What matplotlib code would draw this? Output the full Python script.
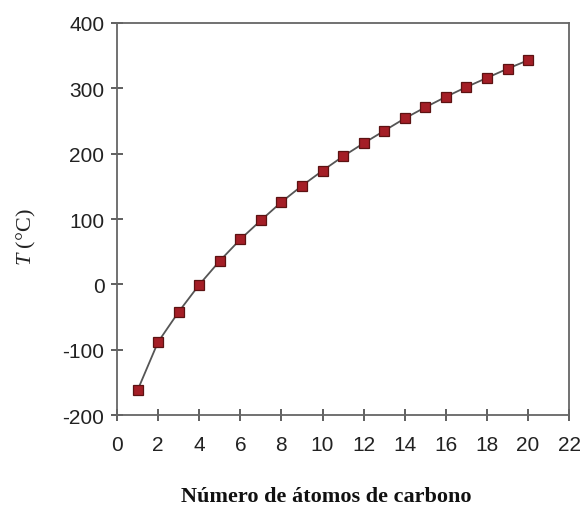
import numpy as np
import matplotlib.pyplot as plt

plt.rcParams['axes.unicode_minus'] = False
plt.rcParams['mathtext.fontset'] = 'custom'
plt.rcParams['mathtext.it'] = 'Liberation Serif:italic'
plt.rcParams['mathtext.rm'] = 'Liberation Serif'

# Ponto de ebulicao dos alcanos lineares (C1 a C20)
n_carbonos = [1, 2, 3, 4, 5, 6, 7, 8, 9, 10, 11, 12, 13, 14, 15, 16, 17, 18, 19, 20]
temperatura = [-162, -88, -42, -0.5, 36, 69, 98, 126, 151, 174,
               196, 216, 235, 254, 271, 287, 302, 316, 330, 343]
x_ticks = [0, 2, 4, 6, 8, 10, 12, 14, 16, 18, 20, 22]
y_ticks = [-200, -100, 0, 100, 200, 300, 400]

Cor_linha = '#555555'
Cor_eixo = '#666666'
Fonte_ticks = 'Liberation Sans'

fig = plt.figure(figsize=(5.82, 5.10), dpi=100)
ax = fig.add_axes([0.201, 0.184, 0.777, 0.769])

ax.plot(n_carbonos, temperatura, color=Cor_linha, linewidth=1.3,
        marker='s', markersize=6.5, markerfacecolor='#a41e26',
        markeredgecolor='#5c1212', markeredgewidth=0.9, zorder=3)

ax.set_xlim(0, 22)
ax.set_ylim(-200, 400)
ax.set_xticks(x_ticks)
ax.set_yticks(y_ticks)

for s in ax.spines.values():
    s.set_color(Cor_eixo)
    s.set_linewidth(1.3)

ax.tick_params(direction='inout', length=8, width=1.2, color='#444444')
ax.tick_params(axis='x', pad=10)
ax.tick_params(axis='y', pad=5)
for lab in ax.get_xticklabels() + ax.get_yticklabels():
    lab.set_family(Fonte_ticks)
    lab.set_fontsize(15)
    lab.set_color('#222222')

fig.text(0.045, 0.535, r'$T$ (°C)', rotation=90, ha='center', va='center',
         family='Liberation Serif', fontsize=16, color='#222222')
fig.text(0.56, 0.025, 'Número de átomos de carbono', ha='center', va='center',
         family='Liberation Serif', fontsize=16, fontweight='bold', color='#111111')

fig.savefig('out.png', dpi=100, facecolor='white')
